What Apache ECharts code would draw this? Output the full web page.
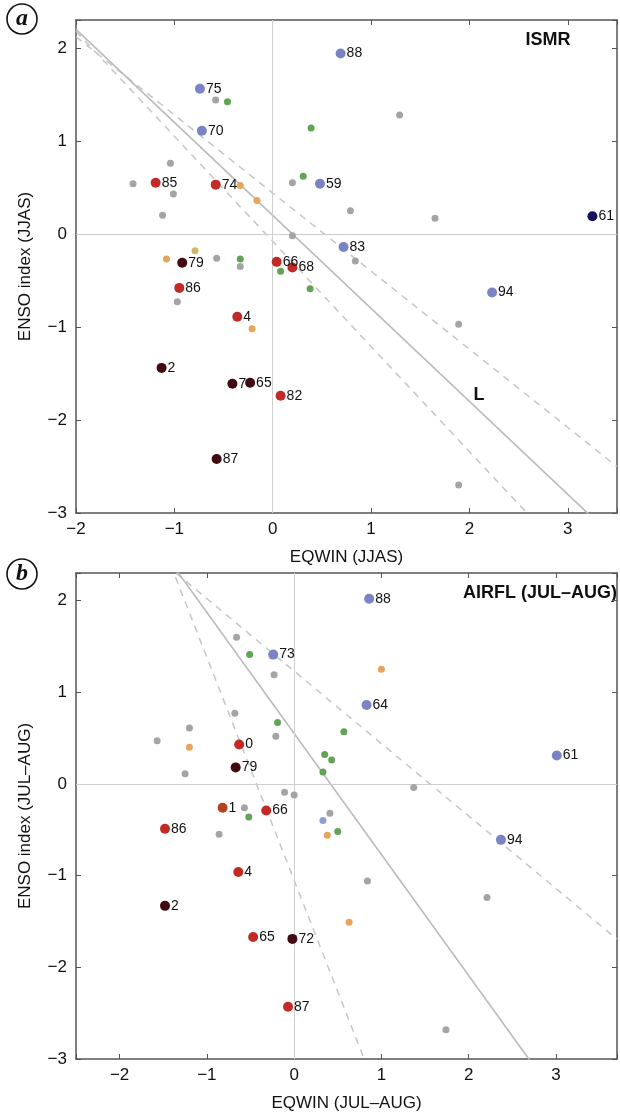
<!DOCTYPE html>
<html>
<head>
<meta charset="utf-8">
<script src="https://cdn.jsdelivr.net/npm/echarts@6/dist/echarts.min.js"></script>
<style>
html,body{margin:0;padding:0;background:#fff;}
#chart{width:620px;height:1113px;}
</style>
</head>
<body>
<div id="chart"></div>
<script>
// ---------- Panel a (ISMR, JJAS) ----------
const aX = [-0.74,-0.58,-0.46,-0.72,0.69,0.39,1.29,-1.04,-1.42,-1.19,-1.01,-1.12,-0.58,-0.33,-0.16,0.20,0.31,0.48,0.79,1.65,3.25,0.20,0.72,0.84,-1.08,-0.79,-0.92,-0.57,-0.33,-0.33,0.04,0.08,0.20,0.38,-0.95,-0.97,-0.36,-0.21,-1.13,-0.41,-0.23,0.08,-0.57,2.23,1.89,1.89];
const aY = [1.56,1.44,1.42,1.11,1.94,1.14,1.28,0.76,0.54,0.55,0.43,0.20,0.53,0.52,0.36,0.55,0.62,0.54,0.25,0.17,0.19,-0.02,-0.14,-0.29,-0.27,-0.18,-0.31,-0.26,-0.27,-0.35,-0.30,-0.40,-0.36,-0.59,-0.58,-0.73,-0.89,-1.02,-1.44,-1.61,-1.60,-1.74,-2.42,-0.63,-0.97,-2.70];
const aLabel = ['75','','','70','88','','','','','85','','','74','','','','','59','','','61','','83','','','','79','','','','66','','68','','86','','4','','2','7','65','82','87','94','',''];
const aGroup = ['blue','gray','green','blue','blue','green','gray','gray','gray','red','gray','gray','red','orange','orange','gray','green','blue','gray','gray','navy','gray','blue','gray','orange','khaki','dark','gray','green','gray','red','green','red','green','red','gray','red','orange','dark','dark','dark','red','dark','blue','gray','gray'];
// fit lines: [intercept, slope]
const aSolidLine = [0.20, -1.00];
const aDashedLines = [[0.44, -0.84], [-0.08, -1.13]];
const aXRange = [-2, 3.5];
const aYRange = [-3, 2.3];

// ---------- Panel b (AIRFL, JUL-AUG) ----------
const bX = [0.86,-0.66,-0.51,-0.24,-0.23,1.00,0.83,-0.68,-0.19,-0.21,0.57,-1.20,-1.57,-1.20,-0.63,-0.67,-1.25,0.35,0.43,0.33,-0.11,0.00,1.37,-0.82,-0.57,-0.52,-0.32,-1.48,-0.86,0.33,0.41,0.38,0.50,2.37,3.01,0.84,2.21,0.63,1.74,-0.64,-1.48,-0.47,-0.02,-0.07];
const bY = [2.02,1.60,1.41,1.41,1.19,1.25,0.86,0.77,0.67,0.52,0.57,0.61,0.47,0.40,0.43,0.18,0.11,0.32,0.26,0.13,-0.09,-0.12,-0.04,-0.26,-0.26,-0.36,-0.29,-0.49,-0.55,-0.40,-0.32,-0.56,-0.52,-0.61,0.31,-1.06,-1.24,-1.51,-2.68,-0.96,-1.33,-1.67,-1.69,-2.43];
const bLabel = ['88','','','73','','','64','','','','','','','','0','79','','','','','','','','1','','','66','86','','','','','','94','61','','','','','4','2','65','72','87'];
const bGroup = ['blue','gray','green','blue','gray','orange','blue','gray','green','gray','green','gray','gray','orange','red','dark','gray','green','green','green','gray','gray','gray','brown','gray','green','red','red','gray','lblue','gray','orange','green','blue','blue','gray','gray','orange','gray','red','dark','red','dark','red'];
const bSolidLine = [0.55, -1.32];
const bDashedLines = [[1.23, -0.79], [-1.05, -2.43]];
const bXRange = [-2.5, 3.7];
const bYRange = [-3, 2.3];

// ---------- styles ----------
const groupColor = {
  blue:'#7a84c4', navy:'#14145a', red:'#c22a26', dark:'#420a12', brown:'#b4421e',
  gray:'#a4a4a4', green:'#62a456', orange:'#e8a458', khaki:'#cdb867', lblue:'#8fa0d0'
};
const FONT = 'Liberation Sans, Arial, Helvetica, sans-serif';

function fmtTick(v){
  if (Math.abs(v - Math.round(v)) > 1e-6) return '';
  return String(Math.round(v)).replace('-', '\u2212');
}

function lineSeries(gi, coef, xr, dashed){
  const f = x => coef[0] + coef[1]*x;
  return {
    type:'line', xAxisIndex:gi*2, yAxisIndex:gi*2, symbol:'none', silent:true, clip:true,
    data:[[xr[0], f(xr[0])],[xr[1], f(xr[1])]],
    lineStyle: dashed ? {color:'#c6c6c6', width:1.5, type:[7,6]} : {color:'#bababa', width:1.6},
    z:1
  };
}
function zeroSeries(gi){
  return {
    type:'line', xAxisIndex:gi*2, yAxisIndex:gi*2, data:[], silent:true,
    markLine:{symbol:'none', silent:true, label:{show:false},
      lineStyle:{color:'#cfcfcf', width:1, type:'solid'},
      data:[{xAxis:0},{yAxis:0}]},
    z:0
  };
}
function scatterSeries(gi, X, Y, L, G){
  return {
    type:'scatter', xAxisIndex:gi*2, yAxisIndex:gi*2, z:5,
    data: X.map((x,i)=>({value:[x, Y[i], L[i]], symbolSize: L[i] ? 10 : 7,
      itemStyle:{color:groupColor[G[i]], opacity:1}})),
    label:{show:true, position:'right', distance:1, color:'#111', fontSize:14, fontFamily:FONT,
      formatter:p=>p.data.value[2]}
  };
}
function axesFor(gi, xr, yr, xName, yName){
  const lineStyle = {color:'#555', width:1.5};
  const tick = {show:true, inside:true, length:5, lineStyle:{color:'#555', width:1}};
  return {
    x:[
      {gridIndex:gi, type:'value', min:xr[0], max:xr[1], splitNumber:6, position:'bottom',
       axisLine:{show:true, onZero:false, lineStyle}, axisTick:tick, splitLine:{show:false},
       axisLabel:{formatter:fmtTick, fontSize:17, color:'#111', fontFamily:FONT, margin:8},
       name:xName, nameLocation:'middle', nameGap:gi===0?36:36,
       nameTextStyle:{fontSize:17, color:'#111', fontFamily:FONT}},
      {gridIndex:gi, type:'value', min:xr[0], max:xr[1], splitNumber:6, position:'top',
       axisLine:{show:true, onZero:false, lineStyle}, axisTick:tick, splitLine:{show:false},
       axisLabel:{show:false}}
    ],
    y:[
      {gridIndex:gi, type:'value', min:yr[0], max:yr[1], splitNumber:5, position:'left',
       axisLine:{show:true, onZero:false, lineStyle}, axisTick:tick, splitLine:{show:false},
       axisLabel:{formatter:fmtTick, fontSize:17, color:'#111', fontFamily:FONT, margin:9},
       name:yName, nameLocation:'middle', nameGap:42,
       nameTextStyle:{fontSize:17, color:'#111', fontFamily:FONT}},
      {gridIndex:gi, type:'value', min:yr[0], max:yr[1], splitNumber:5, position:'right',
       axisLine:{show:true, onZero:false, lineStyle}, axisTick:tick, splitLine:{show:false},
       axisLabel:{show:false}}
    ]
  };
}

const A = axesFor(0, aXRange, aYRange, 'EQWIN (JJAS)', 'ENSO index (JJAS)');
const B = axesFor(1, bXRange, bYRange, 'EQWIN (JUL\u2013AUG)', 'ENSO index (JUL\u2013AUG)');

const series = [
  zeroSeries(0),
  ...aDashedLines.map(c=>lineSeries(0, c, aXRange, true)),
  lineSeries(0, aSolidLine, aXRange, false),
  scatterSeries(0, aX, aY, aLabel, aGroup),
  zeroSeries(1),
  ...bDashedLines.map(c=>lineSeries(1, c, bXRange, true)),
  lineSeries(1, bSolidLine, bXRange, false),
  scatterSeries(1, bX, bY, bLabel, bGroup)
];

function circledLetter(letter, cx, cy){
  return {type:'group', children:[
    {type:'circle', shape:{cx:cx, cy:cy, r:15}, style:{fill:'#fff', stroke:'#111', lineWidth:1.6}},
    {type:'text', x:cx, y:cy, style:{text:letter, fill:'#111', align:'center', verticalAlign:'middle',
      font:'italic bold 24px "Liberation Serif", "DejaVu Serif", serif'}}
  ]};
}

const chart = echarts.init(document.getElementById('chart'), null, {renderer:'canvas'});
chart.setOption({
  animation:false,
  backgroundColor:'#fff',
  grid:[
    {left:76, top:20, width:546, height:493},
    {left:76, top:573, width:544, height:492}
  ],
  xAxis:[...A.x, ...B.x],
  yAxis:[...A.y, ...B.y],
  series: series,
  graphic:[
    circledLetter('a', 22, 19),
    circledLetter('b', 22, 574),
    {type:'text', x:548, y:40, style:{text:'ISMR', fill:'#111', align:'center', verticalAlign:'middle',
      font:'bold 18px "Liberation Sans", Arial, sans-serif'}},
    {type:'text', x:463, y:593, style:{text:'AIRFL (JUL\u2013AUG)', fill:'#111', align:'left', verticalAlign:'middle',
      font:'bold 18px "Liberation Sans", Arial, sans-serif'}},
    {type:'text', x:479, y:395, style:{text:'L', fill:'#111', align:'center', verticalAlign:'middle',
      font:'bold 18px "Liberation Sans", Arial, sans-serif'}}
  ]
});
</script>
</body>
</html>
